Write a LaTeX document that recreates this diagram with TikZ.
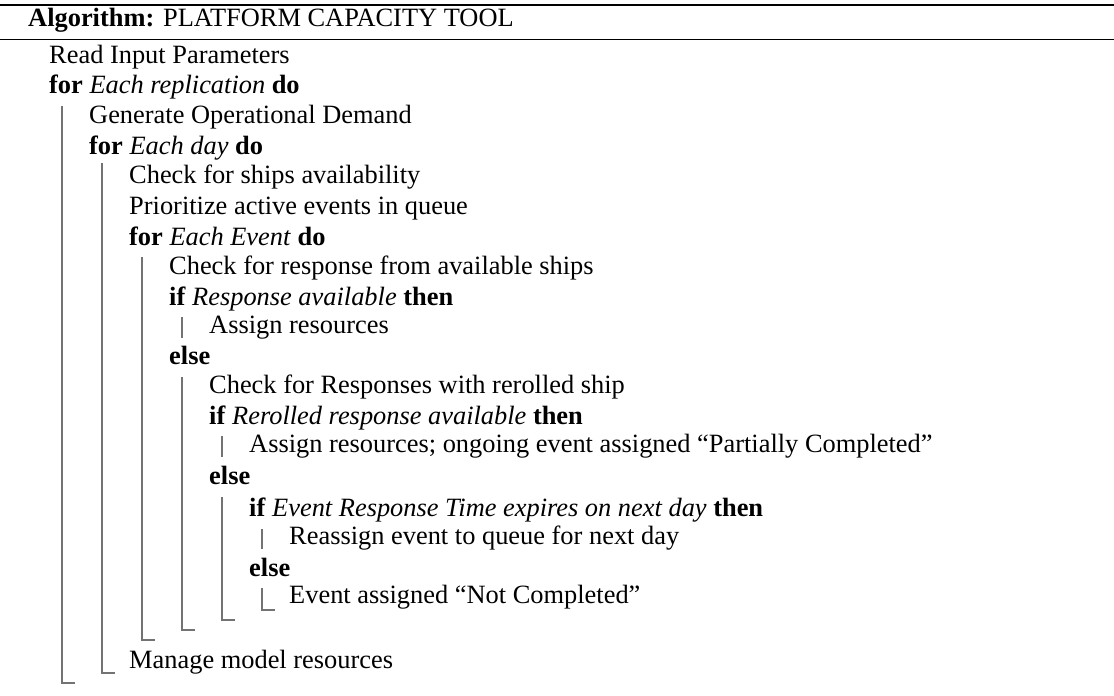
\documentclass[tikz,border=0pt]{standalone}
\usepackage{fontspec}
\setmainfont{Liberation Serif}
\begin{document}
\begin{tikzpicture}[x=1pt,y=-1pt,
  txt/.style={anchor=base west,inner sep=0pt,font=\fontsize{26.4}{30}\selectfont},
  vline/.style={draw=black!55,line width=1.3pt},
  rule/.style={draw=black,line width=1.5pt}]
\useasboundingbox (0,0) rectangle (1114,696);
% rules
\draw[rule] (0,5) -- (1114,5);
\draw[rule] (0,39.5) -- (1114,39.5);
% texts
\node[txt] (title) at (28,27) {\textbf{Algorithm:} PLATFORM CAPACITY TOOL};
\node[txt] (read) at (49,63) {Read Input Parameters};
\node[txt] (forrep) at (49,93) {\textbf{for} \textit{Each replication} \textbf{do}};
\node[txt] (gen) at (89,123) {Generate Operational Demand};
\node[txt] (forday) at (89,154) {\textbf{for} \textit{Each day} \textbf{do}};
\node[txt] (chkships) at (129,183) {Check for ships availability};
\node[txt] (prio) at (129,214) {Prioritize active events in queue};
\node[txt] (forev) at (129,245) {\textbf{for} \textit{Each Event} \textbf{do}};
\node[txt] (chkresp) at (169,274) {Check for response from available ships};
\node[txt] (ifresp) at (169,305) {\textbf{if} \textit{Response available} \textbf{then}};
\node[txt] (assign1) at (209,333) {Assign resources};
\node[txt] (else1) at (169,364) {\textbf{else}};
\node[txt] (chkrer) at (209,393) {Check for Responses with rerolled ship};
\node[txt] (ifrer) at (209,424) {\textbf{if} \textit{Rerolled response available} \textbf{then}};
\node[txt] (assign2) at (249,452) {Assign resources; ongoing event assigned “Partially Completed”};
\node[txt] (else2) at (209,484) {\textbf{else}};
\node[txt] (ifexp) at (249,516) {\textbf{if} \textit{Event Response Time expires on next day} \textbf{then}};
\node[txt] (reassign) at (289,544) {Reassign event to queue for next day};
\node[txt] (else3) at (249,576) {\textbf{else}};
\node[txt] (notc) at (289,603) {Event assigned “Not Completed”};
\node[txt] (manage) at (129,668) {Manage model resources};
% block lines
\draw[vline] (62,106) -- (62,683) -- (75,683);
\draw[vline] (102,163) -- (102,673) -- (115,673);
\draw[vline] (142,257) -- (142,640) -- (155,640);
\draw[vline] (182,317) -- (182,338);
\draw[vline] (182,377) -- (182,630) -- (195,630);
\draw[vline] (222,436) -- (222,457);
\draw[vline] (222,497) -- (222,620) -- (235,620);
\draw[vline] (262,529) -- (262,549);
\draw[vline] (262,588) -- (262,610) -- (275,610);
\end{tikzpicture}
\end{document}
